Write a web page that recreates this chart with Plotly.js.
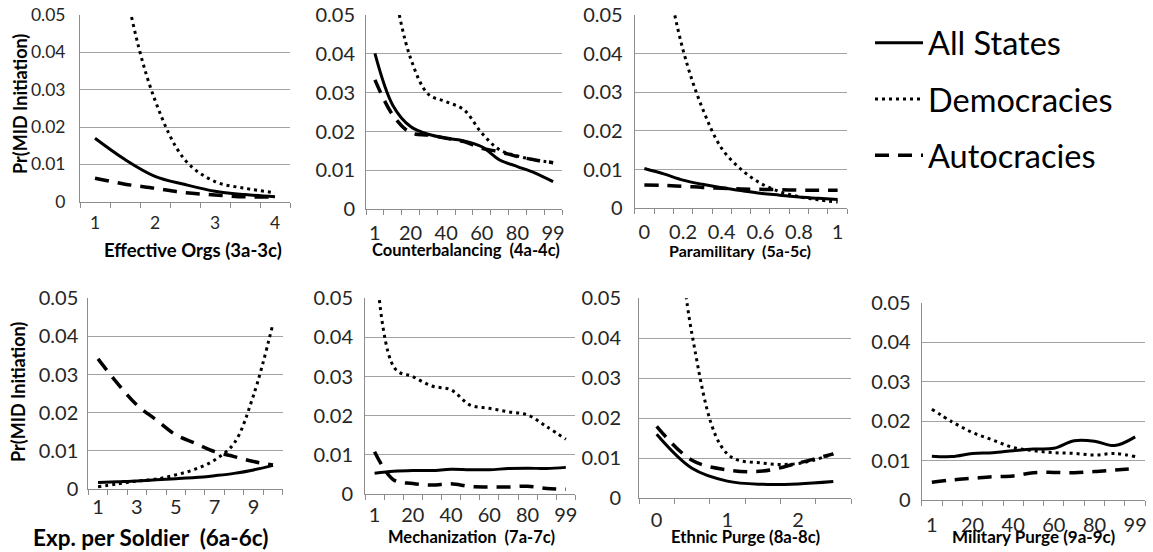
<!DOCTYPE html>
<html>
<head>
<meta charset="utf-8">
<script src="https://cdn.plot.ly/plotly-3.0.1.min.js"></script>
<style>
  html, body { margin: 0; padding: 0; background: #fff; }
  #chart { width: 1153px; height: 552px; }
</style>
</head>
<body>
<div id="chart"></div>
<script>
// Predicted probability of MID initiation by coup-proofing measure,
// for all states, democracies and autocracies.
const seriesNames = ['All States', 'Democracies', 'Autocracies'];

// Effective Orgs (3a-3c)
const orgsCats = ['1', '1.5', '2', '2.5', '3', '3.5', '4'];
const orgsAll = [0.0170, 0.0113, 0.0068, 0.0046, 0.0028, 0.0019, 0.0013];
const orgsDem = [0.120, 0.058, 0.0272, 0.0112, 0.0054, 0.0036, 0.0024];
const orgsAut = [0.0063, 0.0047, 0.0036, 0.0024, 0.0018, 0.0013, 0.0013];

// Counterbalancing (4a-4c)
const cbalCats = ['1', '10', '20', '30', '40', '50', '60', '70', '80', '90', '99'];
const cbalAll = [0.0401, 0.0268, 0.0213, 0.0193, 0.0183, 0.0176, 0.0161, 0.0127, 0.0110, 0.0093, 0.0071];
const cbalDem = [0.080, 0.058, 0.0389, 0.0296, 0.0277, 0.0256, 0.0196, 0.0153, 0.0137, 0.0127, 0.0120];
const cbalAut = [0.0333, 0.0243, 0.0197, 0.0191, 0.0183, 0.0174, 0.0157, 0.0148, 0.0136, 0.0127, 0.0120];

// Paramilitary (5a-5c)
const paraCats = ['0', '0.1', '0.2', '0.3', '0.4', '0.5', '0.6', '0.7', '0.8', '0.9', '1'];
const paraAll = [0.0103, 0.0089, 0.0073, 0.0062, 0.0053, 0.0046, 0.0039, 0.0034, 0.0029, 0.0026, 0.0023];
const paraDem = [0.100, 0.065, 0.0410, 0.0259, 0.0155, 0.0101, 0.0065, 0.0043, 0.0030, 0.0022, 0.0016];
const paraAut = [0.0060, 0.0059, 0.0057, 0.0054, 0.0052, 0.0050, 0.0049, 0.0048, 0.0047, 0.0047, 0.0047];

// Exp. per Soldier (6a-6c)
const expCats = ['1', '2', '3', '4', '5', '6', '7', '8', '9', '10'];
const expAll = [0.0017, 0.0019, 0.0021, 0.0024, 0.0027, 0.0030, 0.0035, 0.0041, 0.0050, 0.0062];
const expDem = [0.0006, 0.0013, 0.0021, 0.0026, 0.0037, 0.0052, 0.0076, 0.0120, 0.0246, 0.0434];
const expAut = [0.0341, 0.0277, 0.0220, 0.0181, 0.0142, 0.0120, 0.0098, 0.0085, 0.0072, 0.0063];

// Mechanization (7a-7c)
const mechCats = ['1', '10', '20', '30', '40', '50', '60', '70', '80', '90', '99'];
const mechAll = [0.0053, 0.0058, 0.0060, 0.0060, 0.0063, 0.0062, 0.0062, 0.0065, 0.0066, 0.0065, 0.0068];
const mechDem = [0.400, 0.0325, 0.0300, 0.0276, 0.0266, 0.0227, 0.0219, 0.0210, 0.0202, 0.0172, 0.0140];
const mechAut = [0.0108, 0.0036, 0.0027, 0.0023, 0.0026, 0.0019, 0.0018, 0.0018, 0.0020, 0.0014, 0.0012];

// Ethnic Purge (8a-8c)
const ethCats = ['0', '0.5', '1', '1.5', '2', '2.5'];
const ethAll = [0.0160, 0.0075, 0.0043, 0.0035, 0.0036, 0.0042];
const ethDem = [0.150, 0.0410, 0.0111, 0.0088, 0.0087, 0.0111];
const ethAut = [0.0180, 0.0095, 0.0071, 0.0068, 0.0088, 0.0111];

// Military Purge (9a-9c)
const milCats = ['1', '10', '20', '30', '40', '50', '60', '70', '80', '90', '99'];
const milAll = [0.0111, 0.0110, 0.0118, 0.0120, 0.0125, 0.0129, 0.0131, 0.0150, 0.0149, 0.0138, 0.0160];
const milDem = [0.0230, 0.0198, 0.0171, 0.0152, 0.0133, 0.0125, 0.0120, 0.0118, 0.0114, 0.0118, 0.0110];
const milAut = [0.0045, 0.0051, 0.0055, 0.0059, 0.0061, 0.0069, 0.0070, 0.0069, 0.0072, 0.0076, 0.0080];

const yTicks = [0, 0.01, 0.02, 0.03, 0.04, 0.05];

// ---- presentation ----
const W = 1153, H = 552;
const FONT = 'Lato, "Open Sans", sans-serif';
const styles = [
  { width: 3, dash: 'solid' },
  { width: 3, dash: '3px,4px' },
  { width: 3.5, dash: '14px,9px' }
];

// plot-area boxes in pixels: [left, right, top, bottom]
const panels = [
  { box: [80, 290, 15, 201.7], cats: orgsCats, data: [orgsAll, orgsDem, orgsAut],
    title: 'Effective Orgs (3a-3c)', tx: 193, ty: 250, tsize: 18.5, fsize: 17.5, ystand: 10, xstand: 5,
    ytitle: true, ytx: 20, yty: 104 },
  { box: [366, 562, 15, 209.3], cats: cbalCats, data: [cbalAll, cbalDem, cbalAut],
    title: 'Counterbalancing  (4a-4c)', tx: 466, ty: 250, tsize: 16.5, fsize: 20, ystand: 6, xstand: 6 },
  { box: [634.7, 847.3, 15, 208.3], cats: paraCats, data: [paraAll, paraDem, paraAut],
    title: 'Paramilitary  (5a-5c)', tx: 740, ty: 250, tsize: 16, fsize: 20, ystand: 7, xstand: 6 },
  { box: [88.3, 282.7, 298.3, 489], cats: expCats, data: [expAll, expDem, expAut],
    title: 'Exp. per Soldier  (6a-6c)', tx: 150, ty: 537, tsize: 22.5, fsize: 20, ystand: 5, xstand: 0,
    ytitle: true, ytx: 18, yty: 392 },
  { box: [365, 575.4, 298.3, 494], cats: mechCats, data: [mechAll, mechDem, mechAut],
    title: 'Mechanization  (7a-7c)', tx: 471, ty: 537, tsize: 16.5, fsize: 20, ystand: 7, xstand: 3 },
  { box: [639, 851, 298.3, 498.3], cats: ethCats, data: [ethAll, ethDem, ethAut],
    title: 'Ethnic Purge (8a-8c)', tx: 745, ty: 537, tsize: 16.7, fsize: 20, ystand: 13, xstand: 4 },
  { box: [921.7, 1145.3, 302.7, 500], cats: milCats, data: [milAll, milDem, milAut],
    title: 'Military Purge (9a-9c)', tx: 1033, ty: 536, tsize: 17, fsize: 20, ystand: 6, xstand: 7 }
];

const traces = [];
const layout = {
  width: W, height: H,
  margin: { l: 0, r: 0, t: 0, b: 0 },
  paper_bgcolor: '#ffffff',
  plot_bgcolor: '#ffffff',
  font: { family: FONT, color: '#000' },
  showlegend: true,
  legend: {
    x: 870 / W, y: 1 - 15 / H, xanchor: 'left', yanchor: 'top',
    font: { family: FONT, size: 32.5, color: '#000' },
    bgcolor: 'rgba(0,0,0,0)', borderwidth: 0,
    traceorder: 'grouped', tracegroupgap: 11, itemwidth: 48
  },
  annotations: []
};

panels.forEach((p, k) => {
  const n = p.cats.length;
  const idx = p.cats.map((_, i) => i);
  const xs = k === 0 ? 'x' : 'x' + (k + 1);
  const ys = k === 0 ? 'y' : 'y' + (k + 1);
  const xa = k === 0 ? 'xaxis' : 'xaxis' + (k + 1);
  const ya = k === 0 ? 'yaxis' : 'yaxis' + (k + 1);

  p.data.forEach((vals, s) => {
    traces.push({
      type: 'scatter', mode: 'lines',
      x: idx, y: vals, xaxis: xs, yaxis: ys,
      name: seriesNames[s], legendgroup: seriesNames[s],
      showlegend: k === 0,
      line: { color: '#000', width: styles[s].width, dash: styles[s].dash, shape: 'spline', smoothing: 1 },
      hoverinfo: 'skip'
    });
  });

  // labels on every other category, tick marks on every category boundary
  const tv = idx.filter(i => i % 2 === 0);
  const tt = tv.map(i => p.cats[i]);
  layout[xa] = {
    domain: [p.box[0] / W, p.box[1] / W],
    anchor: ys,
    type: 'linear',
    range: [-0.5, n - 0.5],
    tickmode: 'array', tickvals: tv, ticktext: tt,
    ticks: '', showgrid: false, zeroline: false,
    showline: true, linecolor: '#8c8c8c', linewidth: 1,
    tickfont: { family: FONT, size: p.fsize, color: '#262626' },
    ticklabelstandoff: p.xstand,
    minor: { ticks: 'outside', tick0: -0.5, dtick: 1, ticklen: 5, tickcolor: '#8c8c8c', tickwidth: 1, showgrid: false },
    fixedrange: true
  };
  layout[ya] = {
    domain: [1 - p.box[3] / H, 1 - p.box[2] / H],
    anchor: xs,
    range: [0, 0.05],
    tickmode: 'array', tickvals: yTicks, ticktext: yTicks.map(v => String(v)),
    ticks: '', showgrid: true, gridcolor: '#a3a3a3', gridwidth: 1,
    zeroline: false, showline: true, linecolor: '#8c8c8c', linewidth: 1,
    tickfont: { family: FONT, size: p.fsize, color: '#262626' },
    ticklabelstandoff: p.ystand,
    fixedrange: true
  };

  layout.annotations.push({
    xref: 'paper', yref: 'paper', x: p.tx / W, y: 1 - p.ty / H,
    xanchor: 'center', yanchor: 'middle', showarrow: false,
    text: '<b>' + p.title + '</b>',
    font: { family: FONT, size: p.tsize, color: '#000' }
  });
  if (p.ytitle) {
    layout.annotations.push({
      xref: 'paper', yref: 'paper', x: p.ytx / W, y: 1 - p.yty / H,
      xanchor: 'center', yanchor: 'middle', showarrow: false, textangle: -90,
      text: '<b>Pr(MID Initiation)</b>',
      font: { family: FONT, size: 18, color: '#000' }
    });
  }
});

Plotly.newPlot('chart', traces, layout, { staticPlot: true, displayModeBar: false });
</script>
</body>
</html>
